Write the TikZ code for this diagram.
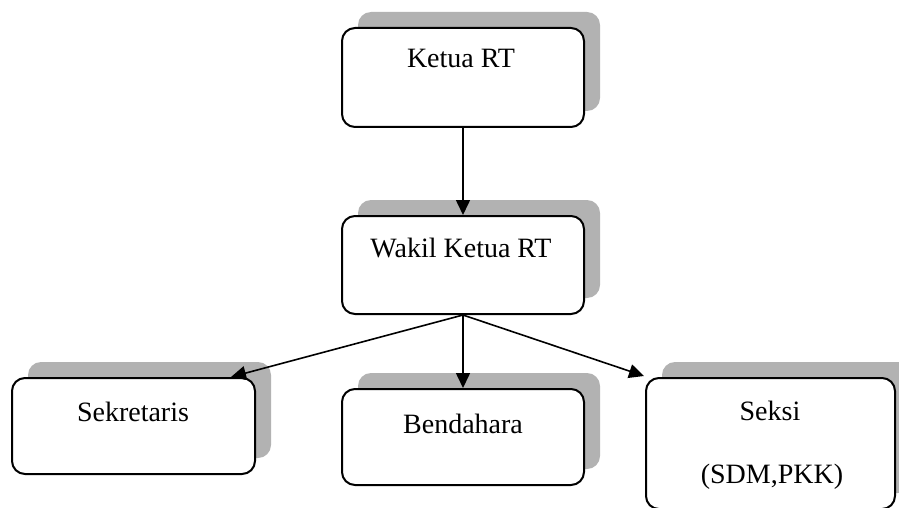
\documentclass[tikz,border=0pt]{standalone}
\usepackage{fontspec}
\setmainfont{Liberation Serif}
\usetikzlibrary{arrows.meta,shadows}

\tikzset{
  orgbox/.style={draw=black, line width=2pt, fill=white, rounded corners=13pt,
    inner sep=0pt,
    drop shadow={shadow xshift=16pt, shadow yshift=16pt, fill=black!30, opacity=1}},
  boxtext/.style={anchor=base, inner sep=0pt, font=\fontsize{28}{33}\selectfont},
  link/.style={line width=1.6pt, -{Triangle[length=15pt,width=14pt]}}
}

\begin{document}
\begin{tikzpicture}[x=1pt,y=-1pt]
  \useasboundingbox (0,0) rectangle (899,508);
  \clip (0,0) rectangle (899,508);

  % boxes of the organisation chart
  \node[orgbox, minimum width=242pt, minimum height=99pt] (ketua) at (463,77.5) {};
  \node[orgbox, minimum width=242pt, minimum height=98pt] (wakil) at (463,265) {};
  \node[orgbox, minimum width=243pt, minimum height=96pt] (sek)   at (133.5,426) {};
  \node[orgbox, minimum width=242pt, minimum height=96pt] (bend)  at (463,437) {};
  \node[orgbox, minimum width=249pt, minimum height=131pt] (seksi) at (770.5,443.5) {};

  % titles
  \node[boxtext] (tketua) at (461,68)  {Ketua RT};
  \node[boxtext] (twakil) at (461,257) {Wakil Ketua RT};
  \node[boxtext] (tsek)   at (133,421) {Sekretaris};
  \node[boxtext] (tbend)  at (463,433) {Bendahara};
  \node[boxtext] (tseksi) at (770,420) {Seksi};
  \node[boxtext] (tsdm)   at (772,483) {(SDM,PKK)};

  % connectors
  \draw[link] (ketua.south) -- (wakil.north);
  \draw[link] (wakil.south) -- ([xshift=-25pt]sek.north east);
  \draw[link] (wakil.south) -- (bend.north);
  \draw[link] (wakil.south) -- ([shift={(-1pt,1pt)}]seksi.north west);
\end{tikzpicture}
\end{document}
